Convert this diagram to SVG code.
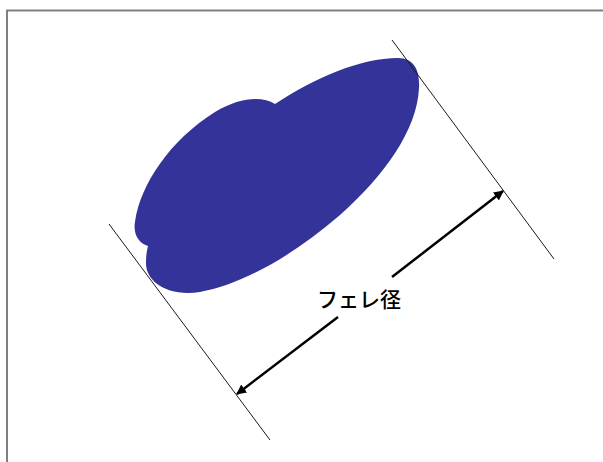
<svg xmlns="http://www.w3.org/2000/svg" width="603" height="462" viewBox="0 0 603 462">
  <defs>
    <style>
      .frame { fill: none; stroke: #7f7f7f; stroke-width: 2; }
      .tangent { stroke: #1a1a1a; stroke-width: 1; fill: none; }
      .dim { stroke: #000; stroke-width: 2.5; fill: none; }
      .label { font-family: "Noto Sans CJK JP", "Noto Sans", sans-serif; font-size: 21px; font-weight: 500; fill: #000; }
    </style>
    <marker id="ah" viewBox="0 0 10 10" refX="9" refY="5" markerWidth="4" markerHeight="4" orient="auto-start-reverse" markerUnits="strokeWidth">
      <path d="M0,0 L10,5 L0,10 Z" fill="#000"/>
    </marker>
  </defs>
  <rect width="603" height="462" fill="#fff"/>
  <path class="frame" d="M7,462 V10.5 H603"/>
  <g id="particle">
    <path fill="#333399" d="M 275,104 C 315,78 360,58 398,58 C 415,58 420,72 419,88 C 417,130 385,175 340,215 C 290,258 240,285 200,292 C 165,297 145,280 146,262 C 146,255 147,250 148,246 C 138,243 133,233 135,222 C 140,185 170,140 215,112 C 240,97 262,96 275,104 Z"/>
  </g>
  <g id="connectors">
    <line class="tangent" x1="392" y1="40" x2="554" y2="259"/>
    <line class="tangent" x1="109" y1="224" x2="270" y2="440"/>
    <line class="dim" x1="338" y1="317" x2="237" y2="394" marker-end="url(#ah)"/>
    <line class="dim" x1="392" y1="277" x2="503" y2="191" marker-end="url(#ah)"/>
  </g>
  <g id="label">
    <text class="label" x="359" y="307" text-anchor="middle">フェレ径</text>
  </g>
</svg>
